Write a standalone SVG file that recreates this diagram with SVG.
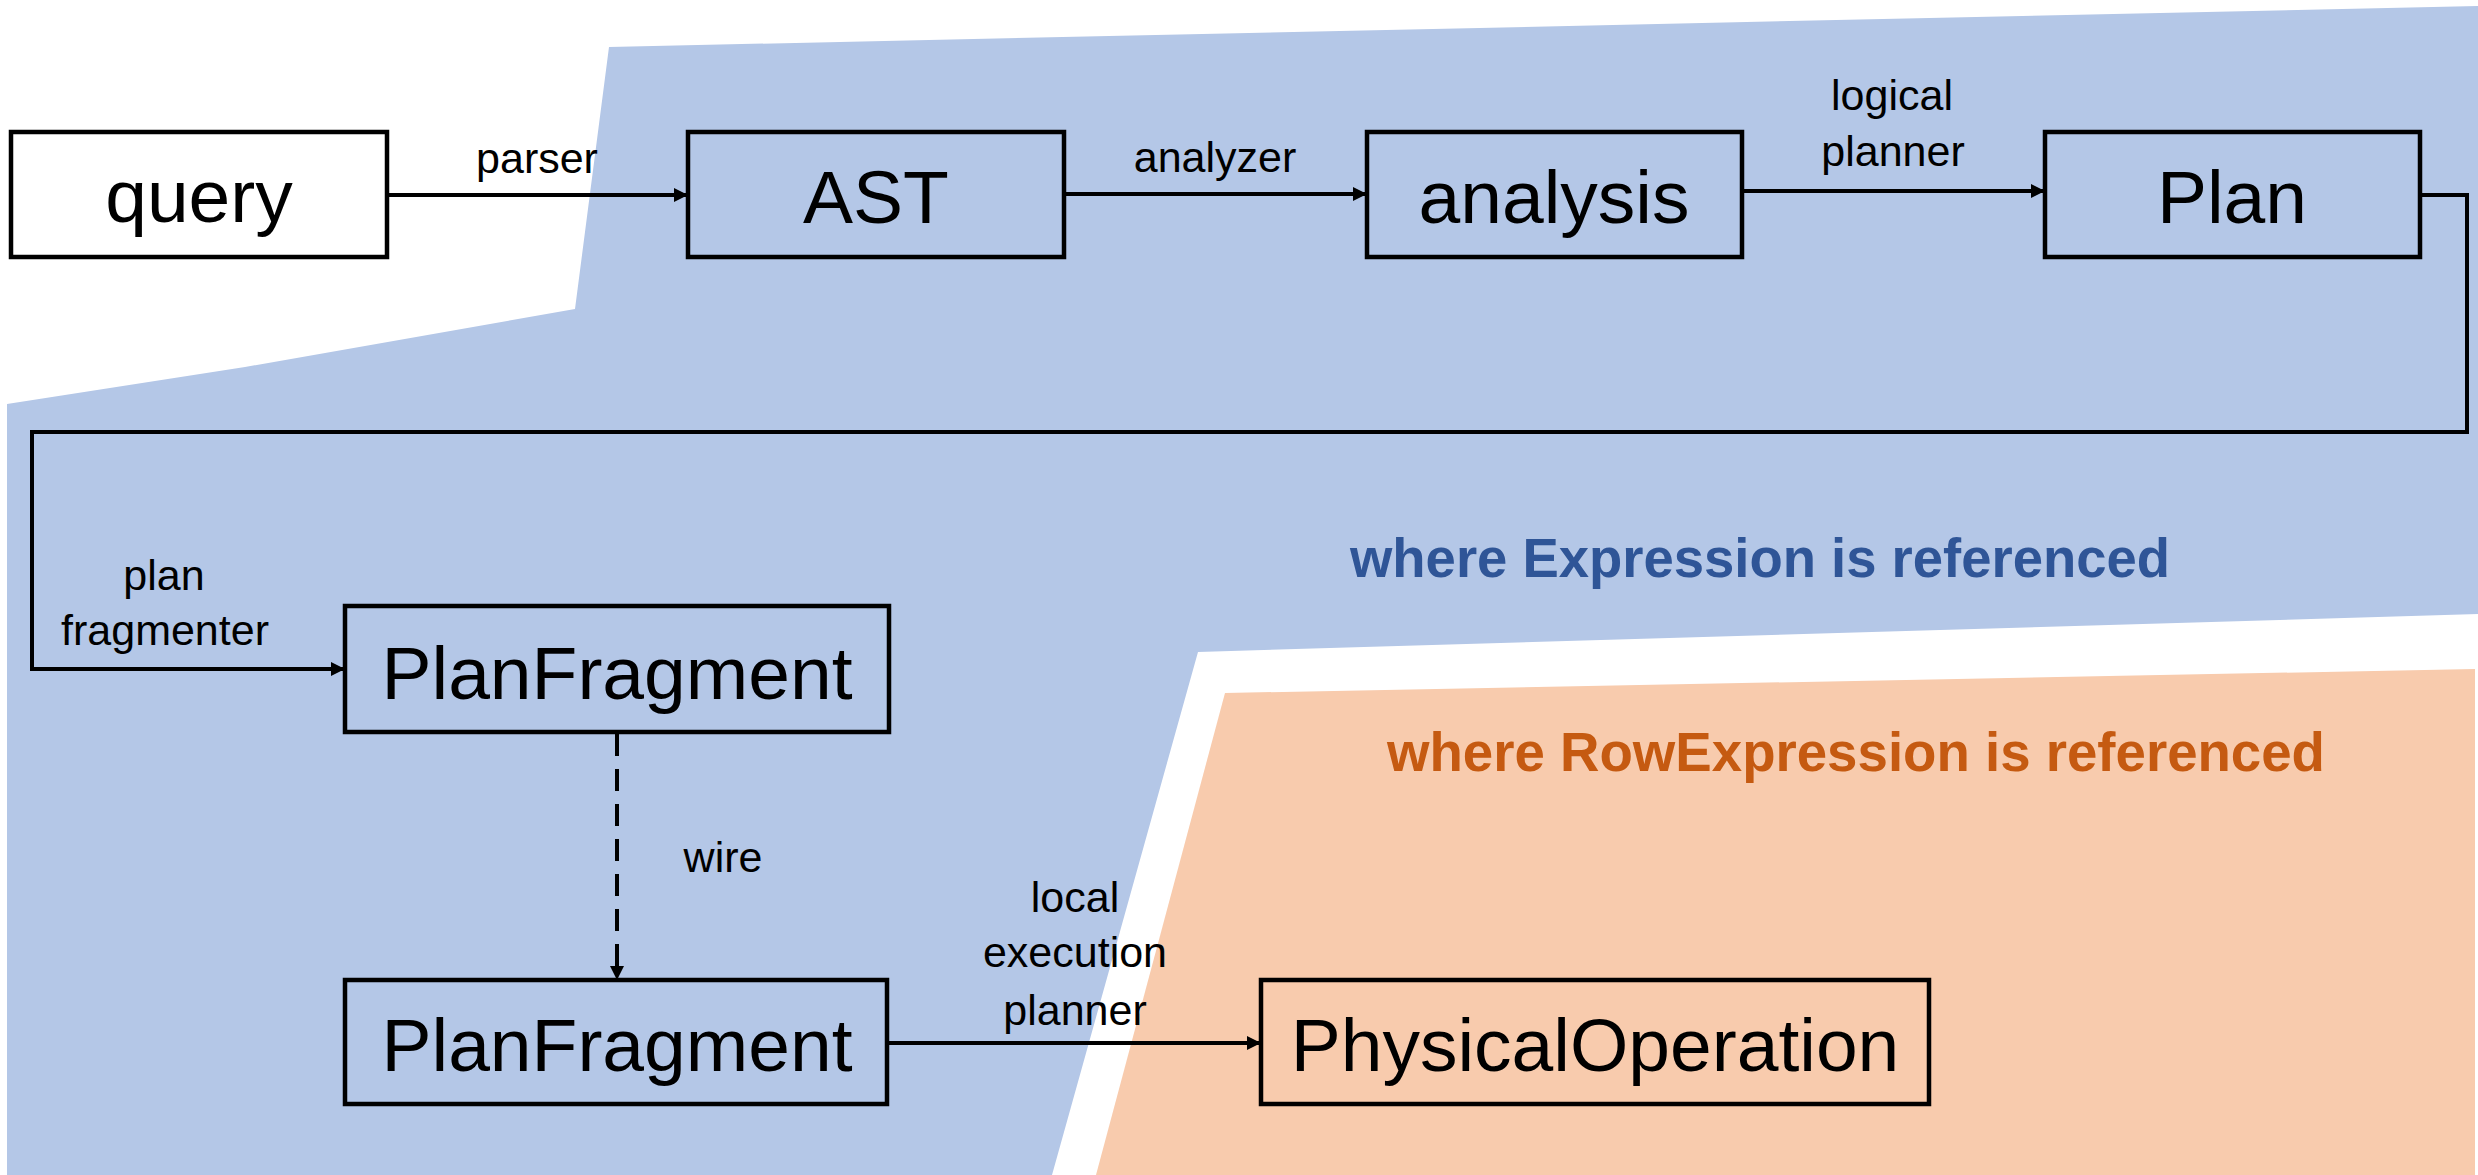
<svg xmlns="http://www.w3.org/2000/svg" width="2478" height="1175" viewBox="0 0 2478 1175">
<style>
.box{fill:none;stroke:#000;stroke-width:4.5}
.lbl{font-family:"Liberation Sans",Arial,sans-serif;font-size:75px;fill:#000;text-anchor:middle}
.el{font-family:"Liberation Sans",Arial,sans-serif;font-size:43px;fill:#000;text-anchor:middle}
.conn{fill:none;stroke:#000;stroke-width:4}
.title{font-family:"Liberation Sans",Arial,sans-serif;font-size:55px;font-weight:bold}
</style>
<defs>
<marker id="arr" markerUnits="userSpaceOnUse" markerWidth="16" markerHeight="16" refX="14" refY="7" orient="auto">
<path d="M0,0 L14,7 L0,14 z" fill="#000"/>
</marker>
</defs>
<rect width="2478" height="1175" fill="#fff"/>
<g id="regions">
<polygon id="region-expression" points="609,47 2478,6 2478,614 1198,652 1052,1175 7,1175 7,404 245,367 575,309" fill="#B4C7E7"/>
<polygon id="region-rowexpression" points="1225,693 2475,669 2475,1175 1096,1175" fill="#F8CBAD"/>
<text class="title" x="1350" y="577" fill="#2F5597" textLength="820" lengthAdjust="spacingAndGlyphs">where Expression is referenced</text>
<text class="title" x="1387" y="771" fill="#C55A11" textLength="938" lengthAdjust="spacingAndGlyphs">where RowExpression is referenced</text>
</g>
<g id="connectors">
<line class="conn" x1="387" y1="195" x2="688" y2="195" marker-end="url(#arr)"/>
<text class="el" x="537" y="173">parser</text>
<line class="conn" x1="1064" y1="194" x2="1367" y2="194" marker-end="url(#arr)"/>
<text class="el" x="1215" y="172">analyzer</text>
<line class="conn" x1="1742" y1="191" x2="2045" y2="191" marker-end="url(#arr)"/>
<text class="el" x="1892" y="110">logical</text>
<text class="el" x="1893" y="166">planner</text>
<polyline class="conn" points="2420,195 2467,195 2467,432 32,432 32,669 345,669" marker-end="url(#arr)"/>
<text class="el" x="164" y="590">plan</text>
<text class="el" x="165" y="645">fragmenter</text>
<line class="conn" x1="617" y1="734" x2="617" y2="980" stroke-dasharray="22,13" stroke-width="3.5" marker-end="url(#arr)"/>
<text class="el" x="723" y="872">wire</text>
<line class="conn" x1="887" y1="1043" x2="1261" y2="1043" marker-end="url(#arr)"/>
<text class="el" x="1075" y="912">local</text>
<text class="el" x="1075" y="967">execution</text>
<text class="el" x="1075" y="1025">planner</text>
</g>
<g id="node-query">
<rect class="box" x="11" y="132" width="376" height="125" fill="#fff" style="fill:#fff"/>
<text class="lbl" x="199" y="222">query</text>
</g>
<g id="node-ast">
<rect class="box" x="688" y="132" width="376" height="125"/>
<text class="lbl" x="876" y="223">AST</text>
</g>
<g id="node-analysis">
<rect class="box" x="1367" y="132" width="375" height="125"/>
<text class="lbl" x="1554" y="223">analysis</text>
</g>
<g id="node-plan">
<rect class="box" x="2045" y="132" width="375" height="125"/>
<text class="lbl" x="2232" y="223">Plan</text>
</g>
<g id="node-planfragment1">
<rect class="box" x="345" y="606" width="544" height="126"/>
<text class="lbl" x="617" y="699">PlanFragment</text>
</g>
<g id="node-planfragment2">
<rect class="box" x="345" y="980" width="542" height="124"/>
<text class="lbl" x="617" y="1071">PlanFragment</text>
</g>
<g id="node-physicaloperation">
<rect class="box" x="1261" y="980" width="668" height="124"/>
<text class="lbl" x="1595" y="1071">PhysicalOperation</text>
</g>
</svg>
